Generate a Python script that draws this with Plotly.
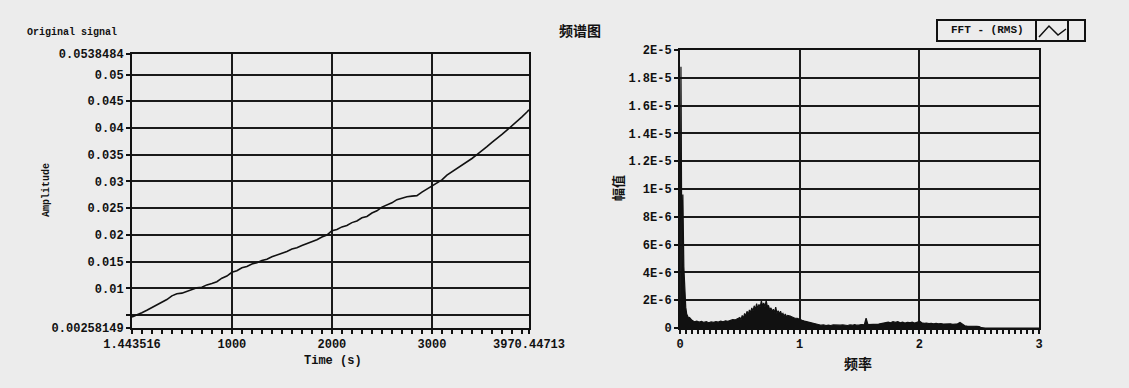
import plotly.graph_objects as go

W, H = 1129, 388

# ---------------- data: original signal ----------------
time_s = [1.443516, 50, 100, 150, 200, 250, 300, 350, 400, 450, 500, 550, 600, 650, 700,
          750, 800, 850, 900, 950, 1000, 1050, 1100, 1150, 1200, 1250, 1300, 1350, 1400,
          1450, 1500, 1550, 1600, 1650, 1700, 1750, 1800, 1850, 1900, 1950, 2000, 2050,
          2100, 2150, 2200, 2250, 2300, 2350, 2400, 2450, 2500, 2550, 2600, 2650, 2700,
          2750, 2800, 2850, 2900, 2950, 3000, 3050, 3100, 3150, 3200, 3250, 3300, 3350,
          3400, 3450, 3500, 3550, 3600, 3650, 3700, 3750, 3800, 3850, 3900, 3950, 3970.44713]
amplitude = [0.00465, 0.00500, 0.00545, 0.00590, 0.00640, 0.00680, 0.00735, 0.00790,
             0.00860, 0.00900, 0.00910, 0.00945, 0.00990, 0.01010, 0.01020, 0.01065,
             0.01090, 0.01125, 0.01190, 0.01230, 0.01300, 0.01330, 0.01385, 0.01410,
             0.01455, 0.01480, 0.01520, 0.01545, 0.01590, 0.01620, 0.01660, 0.01690,
             0.01735, 0.01760, 0.01800, 0.01835, 0.01880, 0.01910, 0.01960, 0.01995,
             0.02080, 0.02100, 0.02150, 0.02175, 0.02230, 0.02260, 0.02320, 0.02345,
             0.02410, 0.02450, 0.02520, 0.02560, 0.02600, 0.02660, 0.02695, 0.02715,
             0.02725, 0.02735, 0.02800, 0.02860, 0.02920, 0.02970, 0.03030, 0.03120,
             0.03180, 0.03240, 0.03310, 0.03370, 0.03430, 0.03500, 0.03570, 0.03650,
             0.03730, 0.03800, 0.03880, 0.03960, 0.04040, 0.04130, 0.04210, 0.04300, 0.04340]

# ---------------- data: FFT spectrum (RMS), frequency in Hz, value in units of 1E-6 ----------------
freq = [0.0, 0.008, 0.016, 0.024, 0.032, 0.040, 0.048, 0.056, 0.064, 0.072, 0.080,
        0.10, 0.12, 0.14, 0.16, 0.18, 0.20, 0.22, 0.24, 0.26, 0.28, 0.30, 0.32, 0.34,
        0.36, 0.38, 0.40, 0.42, 0.44, 0.46, 0.48,
        0.50, 0.51, 0.52, 0.53, 0.54, 0.55, 0.56, 0.57, 0.58, 0.59, 0.60, 0.61, 0.62,
        0.63, 0.64, 0.65, 0.66, 0.67, 0.68, 0.69, 0.70, 0.71, 0.72, 0.73, 0.74, 0.75,
        0.76, 0.77, 0.78, 0.79, 0.80, 0.81, 0.82, 0.83, 0.84, 0.85, 0.86, 0.87, 0.88,
        0.89, 0.90, 0.92, 0.94, 0.96, 0.98, 1.00, 1.02, 1.04, 1.06, 1.08, 1.10, 1.12,
        1.14, 1.16, 1.18, 1.20, 1.22, 1.24, 1.26, 1.28, 1.30, 1.32, 1.34, 1.36, 1.38,
        1.40, 1.42, 1.44, 1.46, 1.48, 1.50, 1.52, 1.54, 1.555, 1.57, 1.60, 1.62, 1.64,
        1.66, 1.68, 1.70, 1.72, 1.74, 1.76, 1.78, 1.80, 1.82, 1.84, 1.86, 1.88, 1.90,
        1.92, 1.94, 1.96, 1.98, 2.00, 2.02, 2.04, 2.06, 2.08, 2.10, 2.12, 2.14, 2.16,
        2.18, 2.20, 2.22, 2.24, 2.26, 2.28, 2.30, 2.32, 2.34, 2.36, 2.38, 2.40, 2.42,
        2.44, 2.46, 2.48, 2.50, 2.52, 2.55, 3.0]
rms_micro = [0.6, 18.8, 4.0, 9.6, 4.4, 2.5, 1.5, 1.0, 0.8, 0.7, 0.75,
             0.55, 0.45, 0.5, 0.42, 0.47, 0.4, 0.45, 0.38, 0.44, 0.4, 0.46, 0.42, 0.5,
             0.45, 0.52, 0.48, 0.55, 0.6, 0.58, 0.68,
             0.75, 0.6, 0.9, 0.7, 1.05, 0.85, 1.2, 0.95, 1.3, 1.1, 1.45, 1.2, 1.6,
             1.3, 1.75, 1.4, 1.7, 1.5, 1.95, 1.6, 1.8, 1.5, 1.97, 1.55, 1.6, 1.3,
             1.45, 1.2, 1.35, 1.1, 1.5, 1.05, 1.25, 1.0, 1.2, 0.95, 1.05, 0.85, 1.0,
             0.8, 0.9, 0.85, 0.78, 0.7, 0.7, 0.6, 0.55, 0.5, 0.45, 0.42, 0.38, 0.3,
             0.25, 0.22, 0.2, 0.22, 0.18, 0.2, 0.18, 0.22, 0.2, 0.18, 0.2, 0.22, 0.2,
             0.18, 0.22, 0.2, 0.24, 0.2, 0.22, 0.25, 0.22, 0.7, 0.25, 0.26, 0.24, 0.3,
             0.28, 0.32, 0.36, 0.38, 0.42, 0.38, 0.45, 0.4, 0.46, 0.38, 0.42, 0.36, 0.4,
             0.38, 0.42, 0.36, 0.4, 0.5, 0.38, 0.34, 0.36, 0.32, 0.34, 0.3, 0.33, 0.3,
             0.32, 0.28, 0.3, 0.27, 0.3, 0.26, 0.28, 0.3, 0.4, 0.25, 0.16, 0.14, 0.12,
             0.13, 0.12, 0.11, 0.1, 0.02, 0.0, 0.0]
rms = [v * 1e-6 for v in rms_micro]

# ---------------- tick labels ----------------
left_y_ticks = [0.00258149, 0.005, 0.01, 0.015, 0.02, 0.025, 0.03, 0.035, 0.04, 0.045, 0.05, 0.0538484]
left_y_text = ["0.00258149", "", "0.01", "0.015", "0.02", "0.025", "0.03", "0.035", "0.04",
               "0.045", "0.05", "0.0538484"]
left_x_ticks = [1.443516, 1000, 2000, 3000, 3970.44713]
left_x_text = ["1.443516", "1000", "2000", "3000", "3970.44713"]
right_y_ticks = [0, 2e-6, 4e-6, 6e-6, 8e-6, 1e-5, 1.2e-5, 1.4e-5, 1.6e-5, 1.8e-5, 2e-5]
right_y_text = ["0", "2E-6", "4E-6", "6E-6", "8E-6", "1E-5", "1.2E-5", "1.4E-5", "1.6E-5",
                "1.8E-5", "2E-5"]
right_x_ticks = [0, 1, 2, 3]
right_x_text = ["0", "1", "2", "3"]
legend_label = "FFT - (RMS)"

MONO = "Liberation Mono"
CJK = "Noto Sans CJK SC"
INK = "#111111"

fig = go.Figure()
fig.add_trace(go.Scatter(x=time_s, y=amplitude, mode="lines", xaxis="x", yaxis="y",
                         line=dict(color=INK, width=1.6), showlegend=False,
                         name="Original signal"))
fig.add_trace(go.Scatter(x=freq, y=rms, mode="lines", xaxis="x2", yaxis="y2",
                         line=dict(color=INK, width=1.2), fill="tozeroy", fillcolor=INK,
                         name=legend_label, showlegend=False))


def px_x(p):
    return p / W


def px_y(p):
    return 1 - p / H


axis_common = dict(showline=True, linecolor=INK, linewidth=2, mirror=True,
                   showgrid=True, gridcolor="#1a1a1a", gridwidth=2, zeroline=False,
                   ticks="outside", tickcolor=INK, ticklen=4, tickwidth=1.5,
                   automargin=False,
                   tickfont=dict(family=MONO, size=12, color=INK, weight="bold"),
                   tickmode="array")

fig.update_layout(
    template="none",
    width=W, height=H,
    margin=dict(l=0, r=0, t=0, b=0, pad=0, autoexpand=False),
    paper_bgcolor="#ececec",
    plot_bgcolor="#ebebeb",
    showlegend=False,
    xaxis=dict(domain=[px_x(132), px_x(529)], range=[1.443516, 3970.44713],
               tickvals=left_x_ticks, ticktext=left_x_text, anchor="y",
               minor=dict(dtick=100, tick0=0, ticks="outside", ticklen=4,
                          tickcolor=INK, showgrid=False),
               **axis_common),
    yaxis=dict(domain=[px_y(328), px_y(54)], range=[0.00258149, 0.0538484],
               tickvals=left_y_ticks, ticktext=left_y_text, anchor="x",
               **axis_common),
    xaxis2=dict(domain=[px_x(680), px_x(1039)], range=[0, 3],
                tickvals=right_x_ticks, ticktext=right_x_text, anchor="y2",
                minor=dict(dtick=0.05, tick0=0, ticks="outside", ticklen=4,
                           tickcolor=INK, showgrid=False),
                **axis_common),
    yaxis2=dict(domain=[px_y(328), px_y(50)], range=[0, 2e-5],
                tickvals=right_y_ticks, ticktext=right_y_text, anchor="x2",
                **axis_common),
)

annotations = [
    dict(text="<b>Original signal</b>", x=px_x(25), y=px_y(32), xanchor="left",
         font=dict(family=MONO, size=10)),
    dict(text="<b>频谱图</b>", x=px_x(580), y=px_y(30), xanchor="center",
         font=dict(family=CJK, size=14)),
    dict(text="<b>Amplitude</b>", x=px_x(46), y=px_y(190), textangle=-90,
         font=dict(family=MONO, size=10)),
    dict(text="<b>Time (s)</b>", x=px_x(333), y=px_y(361),
         font=dict(family=MONO, size=12)),
    dict(text="<b>幅值</b>", x=px_x(617), y=px_y(188), textangle=-90,
         font=dict(family=CJK, size=13)),
    dict(text="<b>频率</b>", x=px_x(858), y=px_y(363),
         font=dict(family=CJK, size=14)),
    # legend label (LabVIEW-style plot legend box)
    dict(text="<b>" + legend_label + "</b>", x=px_x(987), y=px_y(30.5),
         font=dict(family=MONO, size=11)),
]
for a in annotations:
    a.update(xref="paper", yref="paper", showarrow=False, yanchor="middle")
    a.setdefault("xanchor", "center")
    a["font"]["color"] = INK
fig.update_layout(annotations=annotations)

# legend box frame and line sample (decoration in paper coordinates)
box = dict(type="rect", xref="paper", yref="paper", line=dict(color=INK, width=2),
           fillcolor="rgba(0,0,0,0)")
fig.add_shape(**box, x0=px_x(937), x1=px_x(1085), y0=px_y(41), y1=px_y(20))
fig.add_shape(type="line", xref="paper", yref="paper", line=dict(color=INK, width=2),
              x0=px_x(1036), x1=px_x(1036), y0=px_y(41), y1=px_y(20))
fig.add_shape(type="line", xref="paper", yref="paper", line=dict(color=INK, width=2),
              x0=px_x(1068), x1=px_x(1068), y0=px_y(41), y1=px_y(20))
fig.add_shape(type="path", xref="paper", yref="paper", line=dict(color=INK, width=1.5),
              path=("M {:.5f},{:.5f} L {:.5f},{:.5f} L {:.5f},{:.5f} L {:.5f},{:.5f}"
                    .format(px_x(1039), px_y(37), px_x(1049), px_y(26),
                            px_x(1058), px_y(35), px_x(1066), px_y(29))))

fig.write_html("out.html", post_script="document.body.style.margin='0';",
               config={"displayModeBar": False})
